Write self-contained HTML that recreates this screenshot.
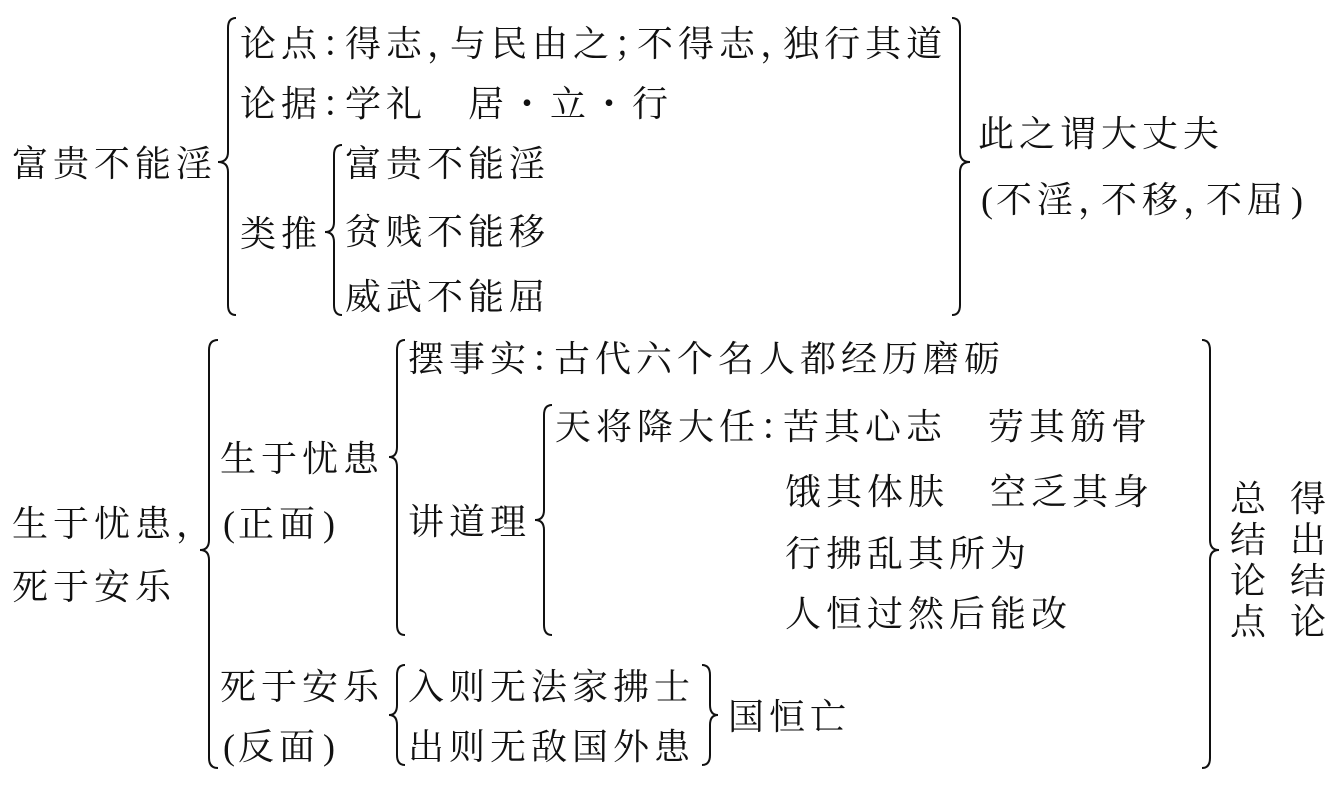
<!DOCTYPE html>
<html><head><meta charset="utf-8"><style>
body{margin:0;width:1337px;height:793px;background:#fff;position:relative;overflow:hidden}
.t{position:absolute;font-family:"Noto Serif CJK SC","Liberation Serif",serif;font-size:36px;line-height:36px;color:#111;white-space:pre;letter-spacing:5px}
.p{display:inline-block;width:23px;letter-spacing:0;overflow:visible}
.q{display:inline-block;width:18px;letter-spacing:0;font-family:"Liberation Serif",serif;text-align:center}
svg{position:absolute;left:0;top:0}
</style></head><body>
<svg width="1337" height="793" fill="none" stroke="#111" stroke-width="2">
<path d="M236,18 Q228,18 228,28 L228,152 Q228,162 218,162 Q228,162 228,172 L228,305 Q228,315 236,315"/>
<path d="M342,145 Q334,145 334,155 L334,222 Q334,232 325,232 Q334,232 334,242 L334,305 Q334,315 342,315"/>
<path d="M952,18 Q960,18 960,28 L960,152 Q960,162 970,162 Q960,162 960,172 L960,305 Q960,315 952,315"/>
<path d="M218,340 Q209,340 209,350 L209,540 Q209,550 200,550 Q209,550 209,560 L209,758 Q209,768 218,768"/>
<path d="M405,340 Q397,340 397,350 L397,447 Q397,457 389,457 Q397,457 397,467 L397,625 Q397,635 405,635"/>
<path d="M552,405 Q544,405 544,415 L544,510 Q544,520 535,520 Q544,520 544,530 L544,625 Q544,635 552,635"/>
<path d="M405,665 Q397,665 397,675 L397,705 Q397,715 389,715 Q397,715 397,725 L397,755 Q397,765 405,765"/>
<path d="M702,665 Q710,665 710,675 L710,705 Q710,715 718,715 Q710,715 710,725 L710,755 Q710,765 702,765"/>
<path d="M1202,340 Q1210,340 1210,350 L1210,540 Q1210,550 1219,550 Q1210,550 1210,560 L1210,758 Q1210,768 1202,768"/>
</svg>
<div class="t" style="left:12px;top:144px">富贵不能淫</div>
<div class="t" style="left:240px;top:24px">论点<span class="p">：</span>得志<span class="p">，</span>与民由之<span class="p">；</span>不得志<span class="p">，</span>独行其道</div>
<div class="t" style="left:240px;top:84px">论据<span class="p">：</span>学礼　居・立・行</div>
<div class="t" style="left:240px;top:214px">类推</div>
<div class="t" style="left:345px;top:144px">富贵不能淫</div>
<div class="t" style="left:345px;top:212px">贫贱不能移</div>
<div class="t" style="left:345px;top:277px">威武不能屈</div>
<div class="t" style="left:978px;top:114px">此之谓大丈夫</div>
<div class="t" style="left:978px;top:180px"><span class="q">(</span>不淫<span class="p">，</span>不移<span class="p">，</span>不屈<span class="q">)</span></div>
<div class="t" style="left:12px;top:504px">生于忧患<span class="p">，</span></div>
<div class="t" style="left:12px;top:567px">死于安乐</div>
<div class="t" style="left:220px;top:439px">生于忧患</div>
<div class="t" style="left:220px;top:504px"><span class="q">(</span>正面<span class="q">)</span></div>
<div class="t" style="left:408px;top:339px">摆事实<span class="p">：</span>古代六个名人都经历磨砺</div>
<div class="t" style="left:408px;top:502px">讲道理</div>
<div class="t" style="left:555px;top:407px">天将降大任<span class="p">：</span>苦其心志　劳其筋骨</div>
<div class="t" style="left:785px;top:472px">饿其体肤　空乏其身</div>
<div class="t" style="left:785px;top:534px">行拂乱其所为</div>
<div class="t" style="left:785px;top:594px">人恒过然后能改</div>
<div class="t" style="left:220px;top:667px">死于安乐</div>
<div class="t" style="left:220px;top:727px"><span class="q">(</span>反面<span class="q">)</span></div>
<div class="t" style="left:408px;top:667px">入则无法家拂士</div>
<div class="t" style="left:408px;top:727px">出则无敌国外患</div>
<div class="t" style="left:728px;top:697px">国恒亡</div>
<div class="t" style="left:1230px;top:476px;line-height:41px;letter-spacing:0">总<br>结<br>论<br>点</div>
<div class="t" style="left:1290px;top:476px;line-height:41px;letter-spacing:0">得<br>出<br>结<br>论</div>
</body></html>
